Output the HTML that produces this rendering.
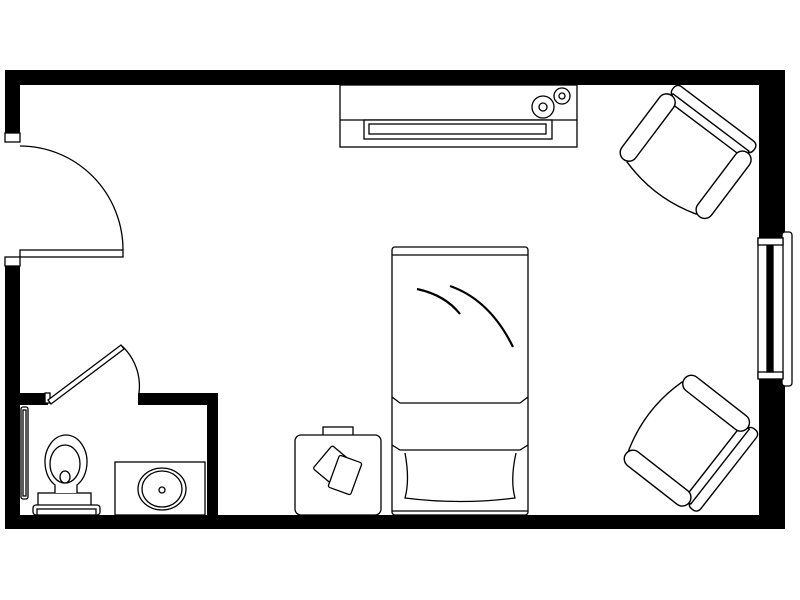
<!DOCTYPE html>
<html><head><style>html,body{margin:0;padding:0;background:#fff}svg{display:block}</style></head>
<body>
<svg width="800" height="600" viewBox="0 0 800 600" xmlns="http://www.w3.org/2000/svg">
<rect width="800" height="600" fill="#fff"/>
<g fill="#000">
<rect x="5" y="70" width="780" height="15"/>
<rect x="5" y="515" width="780" height="14"/>
<rect x="759" y="70" width="26" height="459"/>
<rect x="5" y="70" width="15" height="459"/>
</g>
<g fill="#fff" stroke="#000" stroke-width="1.3">
<rect x="4" y="142" width="17" height="116" stroke="none"/>
<rect x="5" y="133" width="15" height="9"/>
<rect x="5" y="257" width="15" height="9"/>
<rect x="20" y="250" width="103" height="7"/>
<path d="M20,146 A103,104 0 0 1 123,250" fill="none"/>
<rect x="20" y="393" width="28" height="12" fill="#000" stroke="none"/>
<rect x="138" y="393" width="80" height="12" fill="#000" stroke="none"/>
<rect x="207" y="393" width="11" height="125" fill="#000" stroke="none"/>
<rect x="20" y="405" width="187" height="110" stroke="none"/>
<rect x="45" y="393" width="5" height="10" />
<path d="M48,400 L121,345 L124,349 L51,404 Z"/>
<path d="M122,346 A55,55 0 0 1 139,393" fill="none"/>
<rect x="21" y="407" width="7" height="92" rx="2"/>
<rect x="23" y="410" width="3" height="86"/>
<rect x="38" y="493" width="53" height="13"/>
<rect x="33" y="505" width="67" height="10" rx="3"/>
<rect x="37" y="509" width="59" height="6"/>
<path d="M55,493 L55,485 A21,27 0 1 1 77,485 L77,493" />
<ellipse cx="65" cy="464" rx="15" ry="19"/>
<ellipse cx="65" cy="477" rx="5" ry="6"/>
<rect x="115" y="462" width="90" height="53"/>
<ellipse cx="162" cy="489" rx="24" ry="21"/>
<ellipse cx="162" cy="489" rx="20" ry="18"/>
<circle cx="162" cy="490" r="3"/>
<rect x="782" y="232" width="10" height="154" rx="3"/>
<rect x="758" y="238" width="25" height="140"/>
<rect x="758" y="238" width="25" height="7"/>
<rect x="758" y="372" width="25" height="7"/>
<rect x="767" y="246" width="6" height="126" fill="#000"/>
<rect x="340" y="85" width="237" height="62"/>
<line x1="340" y1="120" x2="577" y2="120"/>
<rect x="364" y="120" width="188" height="19"/>
<rect x="369" y="124" width="177" height="10"/>
<circle cx="543" cy="107" r="11"/><circle cx="543" cy="107" r="4"/>
<circle cx="562" cy="96" r="8"/><circle cx="562" cy="96" r="3"/>
<rect x="392" y="247" width="136" height="268" rx="3"/>
<line x1="392" y1="255" x2="528" y2="255"/>
<path d="M392,397 L400,403 L520,403 L528,397" fill="none"/>
<path d="M392,445 L400,450 L520,450 L528,445" fill="none"/>
<path d="M405,453 Q410,480 405,498 Q460,505 515,498 Q510,480 516,453" fill="none"/>
<line x1="392" y1="511" x2="528" y2="511"/>
<path d="M417,289 Q445,295 460,314" fill="none" stroke-width="2.2"/>
<path d="M450,286 Q490,300 513,347" fill="none" stroke-width="2.2"/>
<rect x="323" y="427" width="30" height="9"/>
<rect x="295" y="435" width="86" height="80" rx="6"/>
<rect x="320" y="449" width="22" height="30" rx="2" transform="rotate(40 331 464)"/>
<rect x="333" y="458" width="24" height="34" rx="2" transform="rotate(20 345 475)"/>
<g transform="translate(685,157) rotate(37) scale(1.08)">
<rect x="-47" y="-50" width="94" height="12" rx="5"/>
<rect x="-44" y="-40" width="88" height="10"/>
<path d="M-38,-32 L38,-32 L40,36 Q0,48 -40,36 Z"/>
<rect x="-52" y="-38" width="16" height="74" rx="8"/>
<rect x="36" y="-38" width="16" height="74" rx="8"/>
</g>
<g transform="translate(686,440) rotate(128) scale(1.08)">
<rect x="-47" y="-50" width="94" height="12" rx="5"/>
<rect x="-44" y="-40" width="88" height="10"/>
<path d="M-38,-32 L38,-32 L40,36 Q0,48 -40,36 Z"/>
<rect x="-52" y="-38" width="16" height="74" rx="8"/>
<rect x="36" y="-38" width="16" height="74" rx="8"/>
</g>
</g>
</svg>
</body></html>
